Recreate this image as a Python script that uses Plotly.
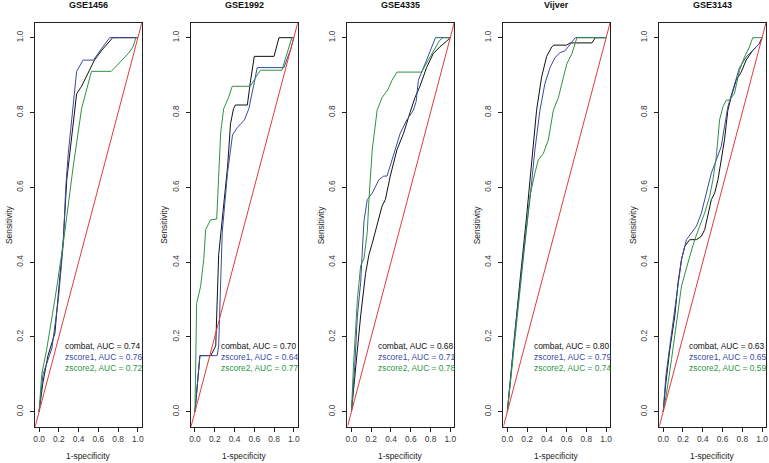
import plotly.graph_objects as go

# ---------------- data ----------------
PANEL_TITLES = ["GSE1456", "GSE1992", "GSE4335", "Vijver", "GSE3143"]
SERIES_NAMES = ["combat", "zscore1", "zscore2"]
AUC_COMBAT = [0.74, 0.70, 0.68, 0.80, 0.63]
AUC_ZSCORE1 = [0.76, 0.64, 0.71, 0.79, 0.65]
AUC_ZSCORE2 = [0.72, 0.77, 0.78, 0.74, 0.59]
X_TICKS = [0.0, 0.2, 0.4, 0.6, 0.8, 1.0]
X_TICK_LABELS = ["0.0", "0.2", "0.4", "0.6", "0.8", "1.0"]
DIAGONAL = [-0.04, 1.04]

# ROC curves: (1-specificity, sensitivity)
GSE1456_COMBAT = [(0, 0), (0.04, 0.08), (0.09, 0.15), (0.16, 0.21), (0.2, 0.33), (0.245, 0.46),
                  (0.28, 0.62), (0.31, 0.69), (0.35, 0.79), (0.38, 0.85), (0.43, 0.87), (0.5, 0.91),
                  (0.56, 0.94), (0.63, 0.965), (0.745, 1.0), (1.0, 1.0)]
GSE1456_ZSCORE1 = [(0, 0), (0.04, 0.1), (0.13, 0.17), (0.195, 0.3), (0.245, 0.45), (0.27, 0.6),
                   (0.295, 0.69), (0.34, 0.8), (0.38, 0.91), (0.445, 0.94), (0.55, 0.94),
                   (0.63, 0.97), (0.715, 1.0), (1.0, 1.0)]
GSE1456_ZSCORE2 = [(0, 0), (0.027, 0.1), (0.077, 0.167), (0.16, 0.3), (0.245, 0.45), (0.345, 0.655),
                   (0.43, 0.81), (0.48, 0.86), (0.53, 0.91), (0.73, 0.91), (0.8, 0.93),
                   (0.9, 0.957), (0.95, 0.975), (0.98, 1.0), (1.0, 1.0)]

GSE1992_COMBAT = [(0, 0), (0.017, 0.06), (0.05, 0.15), (0.16, 0.15), (0.21, 0.176), (0.24, 0.42),
                  (0.33, 0.655), (0.36, 0.77), (0.39, 0.81), (0.41, 0.82), (0.53, 0.82),
                  (0.56, 0.88), (0.6, 0.95), (0.8, 0.95), (0.85, 1.0), (1.0, 1.0)]
GSE1992_ZSCORE1 = [(0, 0), (0.024, 0.08), (0.05, 0.15), (0.225, 0.15), (0.24, 0.176), (0.276, 0.48),
                   (0.33, 0.64), (0.38, 0.74), (0.43, 0.76), (0.5, 0.78), (0.545, 0.81),
                   (0.6, 0.88), (0.63, 0.92), (0.9, 0.92), (0.97, 0.97), (1.0, 1.0)]
GSE1992_ZSCORE2 = [(0, 0), (0.01, 0.2), (0.017, 0.29), (0.057, 0.335), (0.09, 0.41), (0.108, 0.487),
                   (0.158, 0.513), (0.22, 0.515), (0.24, 0.655), (0.26, 0.745), (0.29, 0.81),
                   (0.34, 0.84), (0.377, 0.87), (0.56, 0.87), (0.63, 0.9), (0.663, 0.913),
                   (0.88, 0.913), (0.95, 0.975), (0.98, 1.0), (1.0, 1.0)]

GSE4335_COMBAT = [(0, 0), (0.043, 0.12), (0.093, 0.256), (0.143, 0.37), (0.177, 0.42), (0.21, 0.45),
                  (0.26, 0.5), (0.31, 0.55), (0.343, 0.567), (0.393, 0.63), (0.46, 0.7),
                  (0.527, 0.744), (0.593, 0.8), (0.643, 0.84), (0.693, 0.87), (0.76, 0.92),
                  (0.827, 0.957), (0.893, 0.975), (0.96, 0.99), (1.0, 1.0)]
GSE4335_ZSCORE1 = [(0, 0), (0.033, 0.12), (0.06, 0.256), (0.093, 0.345), (0.11, 0.43), (0.127, 0.51),
                   (0.16, 0.567), (0.21, 0.584), (0.277, 0.62), (0.327, 0.63), (0.36, 0.63),
                   (0.427, 0.69), (0.493, 0.744), (0.56, 0.78), (0.627, 0.806), (0.655, 0.83),
                   (0.677, 0.886), (0.76, 0.94), (0.85, 1.0), (1.0, 1.0)]
GSE4335_ZSCORE2 = [(0, 0), (0.02, 0.12), (0.06, 0.3), (0.093, 0.39), (0.127, 0.41), (0.16, 0.48),
                   (0.177, 0.567), (0.21, 0.7), (0.26, 0.806), (0.31, 0.84), (0.367, 0.86),
                   (0.41, 0.886), (0.46, 0.908), (0.71, 0.908), (0.777, 0.94), (0.843, 0.97),
                   (0.893, 0.993), (0.927, 1.0), (1.0, 1.0)]

VIJVER_COMBAT = [(0, 0), (0.058, 0.167), (0.126, 0.345), (0.194, 0.52), (0.245, 0.67), (0.296, 0.806),
                 (0.347, 0.895), (0.398, 0.95), (0.449, 0.975), (0.47, 0.98), (0.6, 0.98),
                 (0.636, 0.986), (0.857, 0.986), (0.89, 1.0), (1.0, 1.0)]
VIJVER_ZSCORE1 = [(0, 0), (0.075, 0.21), (0.16, 0.415), (0.228, 0.567), (0.279, 0.7), (0.33, 0.806),
                  (0.38, 0.877), (0.432, 0.92), (0.483, 0.947), (0.534, 0.96), (0.585, 0.965),
                  (0.636, 0.984), (0.687, 1.0), (1.0, 1.0)]
VIJVER_ZSCORE2 = [(0, 0), (0.075, 0.185), (0.16, 0.407), (0.228, 0.576), (0.279, 0.638),
                  (0.313, 0.673), (0.364, 0.69), (0.415, 0.727), (0.466, 0.806), (0.517, 0.84),
                  (0.568, 0.895), (0.602, 0.93), (0.653, 0.957), (0.704, 1.0), (1.0, 1.0)]

GSE3143_COMBAT = [(0, 0), (0.027, 0.078), (0.067, 0.167), (0.117, 0.256), (0.15, 0.345),
                  (0.185, 0.407), (0.218, 0.442), (0.268, 0.46), (0.336, 0.46), (0.386, 0.469),
                  (0.42, 0.487), (0.453, 0.531), (0.487, 0.567), (0.52, 0.584), (0.554, 0.62),
                  (0.587, 0.673), (0.62, 0.727), (0.654, 0.806), (0.688, 0.842), (0.738, 0.886),
                  (0.789, 0.908), (0.839, 0.94), (0.906, 0.966), (0.973, 0.984), (1.0, 1.0)]
GSE3143_ZSCORE1 = [(0, 0), (0.027, 0.096), (0.067, 0.176), (0.134, 0.3), (0.185, 0.407),
                   (0.235, 0.46), (0.285, 0.478), (0.336, 0.496), (0.386, 0.531), (0.436, 0.584),
                   (0.487, 0.638), (0.537, 0.673), (0.587, 0.709), (0.62, 0.762), (0.654, 0.815),
                   (0.705, 0.86), (0.772, 0.92), (0.839, 0.948), (0.906, 0.966), (0.973, 0.984),
                   (1.0, 1.0)]
GSE3143_ZSCORE2 = [(0, 0), (0.034, 0.05), (0.084, 0.14), (0.134, 0.238), (0.185, 0.336),
                   (0.252, 0.4), (0.319, 0.46), (0.369, 0.496), (0.419, 0.531), (0.47, 0.576),
                   (0.503, 0.62), (0.537, 0.682), (0.57, 0.78), (0.604, 0.815), (0.638, 0.833),
                   (0.671, 0.833), (0.721, 0.851), (0.772, 0.913), (0.822, 0.948), (0.872, 0.975),
                   (0.906, 1.0), (1.0, 1.0)]

CURVES = [
    [GSE1456_COMBAT, GSE1456_ZSCORE1, GSE1456_ZSCORE2],
    [GSE1992_COMBAT, GSE1992_ZSCORE1, GSE1992_ZSCORE2],
    [GSE4335_COMBAT, GSE4335_ZSCORE1, GSE4335_ZSCORE2],
    [VIJVER_COMBAT, VIJVER_ZSCORE1, VIJVER_ZSCORE2],
    [GSE3143_COMBAT, GSE3143_ZSCORE1, GSE3143_ZSCORE2],
]
AUCS = [AUC_COMBAT, AUC_ZSCORE1, AUC_ZSCORE2]

# ---------------- styling ----------------
W, H = 769, 463
LINE_COLORS = ["#111111", "#3a4aa0", "#2e9142"]
TEXT_COLORS = ["#111111", "#3b4ca2", "#2f9644"]
RED = "#e23a3f"
FONT = "Liberation Sans, Arial, sans-serif"
FS = 8.4
BOX_LEFTS = [33.3, 190.0, 347.3, 504.0, 660.7]
BOX_W = 107.3
BOX_TOP, BOX_BOTTOM = 22.7, 426.7
LEGEND_X = 0.245
LEGEND_Y = [0.1765, 0.146, 0.116]

fig = go.Figure()
annotations = []

for i, title in enumerate(PANEL_TITLES):
    n = i + 1
    xa = "x" if n == 1 else f"x{n}"
    ya = "y" if n == 1 else f"y{n}"
    for s, curve in enumerate(CURVES[i]):
        fig.add_trace(go.Scatter(
            x=[p[0] for p in curve], y=[p[1] for p in curve],
            mode="lines", line=dict(color=LINE_COLORS[s], width=1),
            xaxis=xa, yaxis=ya, showlegend=False, hoverinfo="skip"))
    fig.add_trace(go.Scatter(
        x=DIAGONAL, y=DIAGONAL, mode="lines", line=dict(color=RED, width=1),
        xaxis=xa, yaxis=ya, showlegend=False, hoverinfo="skip"))

    left = BOX_LEFTS[i]
    dom_x = [left / W, (left + BOX_W) / W]
    dom_y = [1 - BOX_BOTTOM / H, 1 - BOX_TOP / H]
    axis_common = dict(range=[-0.04, 1.04], showgrid=False, zeroline=False,
                       showline=True, mirror=True, linecolor="#222222", linewidth=1,
                       ticks="outside", ticklen=4, tickwidth=1, tickcolor="#222222",
                       tickvals=X_TICKS, ticktext=X_TICK_LABELS,
                       tickfont=dict(family=FONT, size=FS, color="#3a3a3a"))
    fig.layout[("xaxis" if n == 1 else f"xaxis{n}")] = dict(
        domain=dom_x, anchor=ya, **axis_common)
    fig.layout[("yaxis" if n == 1 else f"yaxis{n}")] = dict(
        domain=dom_y, anchor=xa, tickangle=-90, ticklabelstandoff=4, **axis_common)

    cx = (left + BOX_W / 2) / W
    annotations.append(dict(text=f"<b>{title}</b>", x=cx, y=1 - 5.0 / H, xref="paper", yref="paper",
                            xanchor="center", yanchor="middle", showarrow=False,
                            font=dict(family=FONT, size=9, color="#111111")))
    annotations.append(dict(text="1-specificity", x=cx, y=1 - 455.5 / H, xref="paper", yref="paper",
                            xanchor="center", yanchor="middle", showarrow=False,
                            font=dict(family=FONT, size=FS, color="#222222")))
    annotations.append(dict(text="Sensitivity", x=(left - 27) / W,
                            y=1 - ((BOX_TOP + BOX_BOTTOM) / 2) / H, xref="paper", yref="paper",
                            xanchor="center", yanchor="middle", textangle=-90, showarrow=False,
                            font=dict(family=FONT, size=FS, color="#222222")))
    for s, name in enumerate(SERIES_NAMES):
        annotations.append(dict(text=f"{name}, AUC = {AUCS[s][i]:.2f}", x=LEGEND_X, y=LEGEND_Y[s],
                                xref=xa, yref=ya, xanchor="left", yanchor="middle",
                                showarrow=False,
                                font=dict(family=FONT, size=FS, color=TEXT_COLORS[s])))

fig.update_layout(width=W, height=H, margin=dict(l=0, r=0, t=0, b=0),
                  paper_bgcolor="white", plot_bgcolor="white",
                  annotations=annotations, showlegend=False)

fig.write_html("out.html", config={"displayModeBar": False},
               post_script="document.body.style.margin='0px';document.body.style.overflow='hidden';")
